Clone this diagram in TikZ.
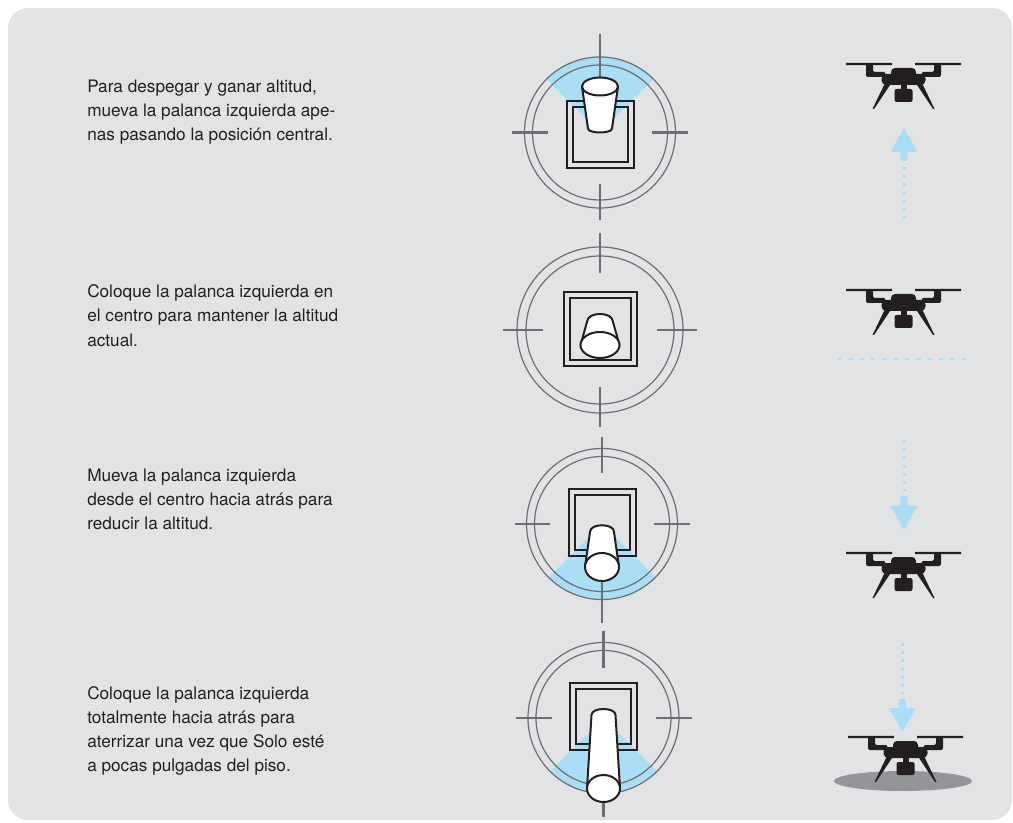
\documentclass[tikz,border=0pt]{standalone}
\usepackage{fontspec}
\setmainfont{TeX Gyre Heros}
\usepackage{tikz}

\definecolor{panelgray}{RGB}{226,227,229}
\definecolor{ink}{RGB}{35,31,32}
\definecolor{ringgray}{RGB}{109,110,113}
\definecolor{cueblue}{RGB}{170,222,246}
\definecolor{shadowgray}{RGB}{148,149,152}

\begin{document}
\begin{tikzpicture}[x=0.75pt,y=-0.75pt,
  caption/.style={font=\fontsize{12.9}{18}\selectfont, text=ink, align=left, inner sep=0pt, anchor=base west},
  ring/.style={draw=ringgray, line width=0.9pt},
  tick/.style={draw=ringgray, line width=1.75pt},
  gate/.style={draw=ink, line width=1.5pt},
  knob/.style={draw=ink, fill=white, line width=1.5pt, line join=round},
  wedge/.style={fill=cueblue},
  dronebody/.style={fill=ink},
  drone/.pic={
    \fill[dronebody] (-57.5,-1.2) rectangle (-11.5,1.2) (11.5,-1.2) rectangle (57.5,1.2);
    \fill[dronebody, rounded corners=1.5pt] (-37.5,0) -- (-30.5,0) -- (-30.5,8) -- (-18,8) -- (-18,13) -- (-37.5,13) -- cycle;
    \fill[dronebody, rounded corners=1.5pt] (37.5,0) -- (30.5,0) -- (30.5,8) -- (18,8) -- (18,13) -- (37.5,13) -- cycle;
    \fill[dronebody, rounded corners=3pt] (-12.5,4) rectangle (12.5,14);
    \fill[dronebody, rounded corners=3.5pt] (-22,10) rectangle (22,21);
    \fill[dronebody] (-3,20) rectangle (3,26);
    \fill[dronebody, rounded corners=1.5pt] (-9,25) rectangle (9,38);
    \fill[dronebody] (-18,18) -- (-12.5,19.5) -- (-29.5,45) -- (-31,45) -- cycle;
    \fill[dronebody] (18,18) -- (12.5,19.5) -- (29.5,45) -- (31,45) -- cycle;
  }]
\useasboundingbox (0,0) rectangle (1013,823);
\fill[panelgray, rounded corners=15pt] (8,8) rectangle (1012,820);

% base anchor sits on the last line
\node[caption] (lift) at (87,141) {Para despegar y ganar altitud,\\mueva la palanca izquierda ape-\\nas pasando la posición central.};
\node[caption] (hold) at (87,346) {Coloque la palanca izquierda en\\el centro para mantener la altitud\\actual.};
\node[caption] (lower) at (87,529) {Mueva la palanca izquierda\\desde el centro hacia atrás para\\reducir la altitud.};
\node[caption] (land) at (87,771) {Coloque la palanca izquierda\\totalmente hacia atrás para\\aterrizar una vez que Solo esté\\a pocas pulgadas del piso.};

% stick pushed up
\begin{scope}[shift={(600,132.5)}]
\begin{scope}
\clip (0,0) circle (76);
\fill[wedge] (0,0) -- (-110,-110) -- (110,-110) -- cycle;
\end{scope}
\draw[ring] (0,0) circle (75.5) (0,0) circle (67.5);
\draw[tick] (-88,0) -- (-52,0) (52,0) -- (88,0) (0,52) -- (0,88) (0,-52) -- (0,-98);
\draw[gate] (-33.5,-31) rectangle (33.5,36) (-27.5,-25) rectangle (27.5,30);
\draw[knob] (-18,-46) -- (-12,-4) .. controls (-12,1.3) and (12,1.3) .. (12,-4) -- (18,-46) -- cycle;
\draw[knob] (0,-46) ellipse [x radius=18, y radius=9];
\end{scope}

% stick centred
\begin{scope}[shift={(600,330)}]
\draw[ring] (0,0) circle (83) (0,0) circle (74);
\draw[tick] (-97,0) -- (-57,0) (57,0) -- (97,0) (0,57) -- (0,97) (0,-57) -- (0,-97);
\draw[gate] (-36.5,-37.5) rectangle (36.5,35.5) (-30.5,-31.5) rectangle (30.5,29.5);
\draw[knob] (-13,-8) .. controls (-13,-18.7) and (13,-18.7) .. (13,-8) -- (19.5,15) -- (-19.5,15) -- cycle;
\draw[knob] (0,15) ellipse [x radius=19.5, y radius=13];
\end{scope}

% stick pulled back
\begin{scope}[shift={(602,524)}]
\begin{scope}
\clip (0,0) circle (76);
\fill[wedge] (0,0) -- (-110,110) -- (110,110) -- cycle;
\end{scope}
\draw[ring] (0,0) circle (75.5) (0,0) circle (67.5);
\draw[tick] (-87,0) -- (-52,0) (52,0) -- (88,0) (0,-87) -- (0,-51) (0,52) -- (0,99);
\draw[gate] (-33.5,-35) rectangle (33.5,32) (-27.5,-29) rectangle (27.5,26);
\draw[knob] (-12,8) .. controls (-12,-1) and (12,-1) .. (12,8) -- (17,43) -- (-17,43) -- cycle;
\draw[knob] (0,43) ellipse [x radius=17, y radius=14];
\end{scope}

% stick fully back
\begin{scope}[shift={(603.5,718)}]
\begin{scope}
\clip (0,0) circle (76);
\fill[wedge] (0,0) -- (-110,110) -- (110,110) -- cycle;
\end{scope}
\draw[ring] (0,0) circle (75.5) (0,0) circle (67.5);
\draw[tick] (-88,0) -- (-52,0) (52,0) -- (88,0) (0,-87) -- (0,-50) (0,52) -- (0,99);
\draw[gate] (-33.5,-35.5) rectangle (33.5,31.5) (-27.5,-29.5) rectangle (27.5,25.5);
\draw[knob] (-12,-3) .. controls (-12,-11) and (12,-11) .. (12,-3) -- (16.5,70.5) -- (-16.5,70.5) -- cycle;
\draw[knob] (0,70.5) ellipse [x radius=16.5, y radius=13.5];
\end{scope}

% climb
\pic at (903.5,64) {drone};
\fill[cueblue] (904,128) -- (917.5,152) -- (890.5,152) -- cycle;
\fill[cueblue, rounded corners=1.5pt] (900.5,150) rectangle (907.5,161);
\draw[cueblue, line width=2.25pt, dash pattern=on 2.25pt off 3.9pt] (904,167) -- (904,218);

% hover
\pic at (903.5,290) {drone};
\draw[cueblue, line width=1.5pt, dash pattern=on 3.3pt off 5.2pt] (837,359) -- (968,359);

% descend
\draw[cueblue, line width=2.25pt, dash pattern=on 2.25pt off 3.9pt] (904,440) -- (904,491);
\fill[cueblue, rounded corners=1.5pt] (900.5,496) rectangle (907.5,508);
\fill[cueblue] (904,530) -- (917.5,506) -- (890.5,506) -- cycle;
\pic at (903.5,553) {drone};

% touch down
\fill[shadowgray] (903,781) ellipse [x radius=69, y radius=10];
\draw[cueblue, line width=2.25pt, dash pattern=on 2.25pt off 3.9pt] (902.3,643) -- (902.3,694);
\fill[cueblue, rounded corners=1.5pt] (898.8,699) rectangle (905.8,710);
\fill[cueblue] (902.3,732) -- (915.8,708) -- (888.8,708) -- cycle;
\pic at (905.5,737) {drone};
\end{tikzpicture}
\end{document}
